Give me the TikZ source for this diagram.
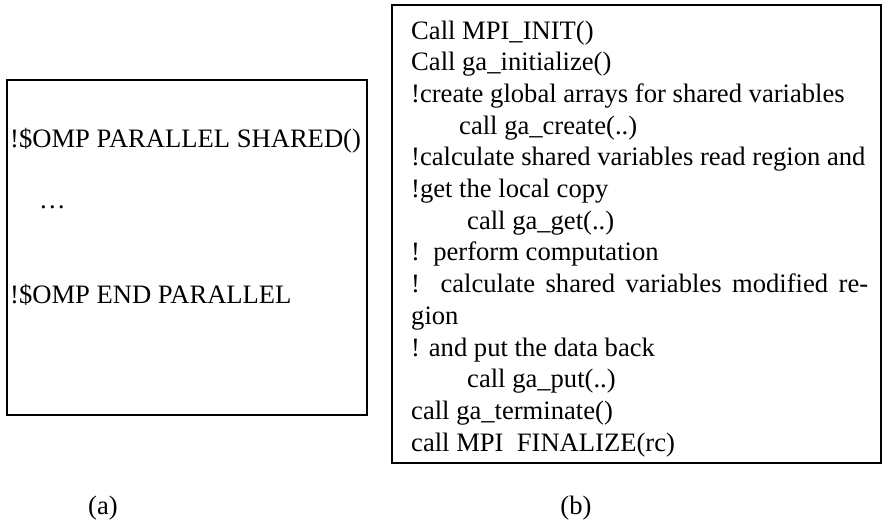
\documentclass[tikz,border=0pt]{standalone}
\usepackage{fontspec}
\setmainfont{Liberation Serif}

\tikzset{
	codeline/.style={inner sep=0pt, anchor=base west, font=\fontsize{26.6}{31.7}\selectfont},
	panel/.style={line width=1.6pt}
}

\begin{document}
\begin{tikzpicture}[x=1pt, y=-1pt]
				\useasboundingbox (0, 0) rectangle (883, 522);
				
				% panel (a): OpenMP region
				\coordinate (A) at (7, 80);
				\coordinate (B) at (367, 80);
				\coordinate (C) at (367, 415);
				\coordinate (D) at (7, 415);
				
				% panel (b): MPI and global arrays version
				\coordinate (W) at (392, 5);
				\coordinate (X) at (881, 5);
				\coordinate (Y) at (881, 463);
				\coordinate (Z) at (392, 463);
				
				\draw[panel] (A) -- (B) -- (C) -- (D) -- cycle;
				\draw[panel, line width=2pt] (W) -- (X) -- (Y) -- (Z) -- cycle;
				
				\node[codeline] (par) at (10, 147) {!\$OMP PARALLEL SHARED()};
				\node[codeline] (dots) at (39, 208) {…};
				\node[codeline] (endpar) at (10, 303) {!\$OMP END PARALLEL};
				
				\foreach \xx/\txt [count=\i from 0] in {
						411/Call MPI\_INIT(),
						411/Call ga\_initialize(),
						411/!create global arrays for shared variables,
						459/call ga\_create(..),
						411/!calculate shared variables read region and,
						411/!get the local copy,
						467/call ga\_get(..),
						411/!\ \ perform computation,
						411/{\makebox[457pt][s]{! calculate shared variables modified re-}},
						411/gion,
						411/! and put the data back,
						467/call ga\_put(..),
						411/call ga\_terminate(),
						411/call MPI\ \ FINALIZE(rc)}
					\node[codeline] (ln\i) at (\xx, 39+31.7*\i) {\txt};
				
				\node[codeline, anchor=base] (capa) at (103, 514) {(a)};
				\node[codeline, anchor=base] (capb) at (576, 514) {(b)};
			\end{tikzpicture}
\end{document}
